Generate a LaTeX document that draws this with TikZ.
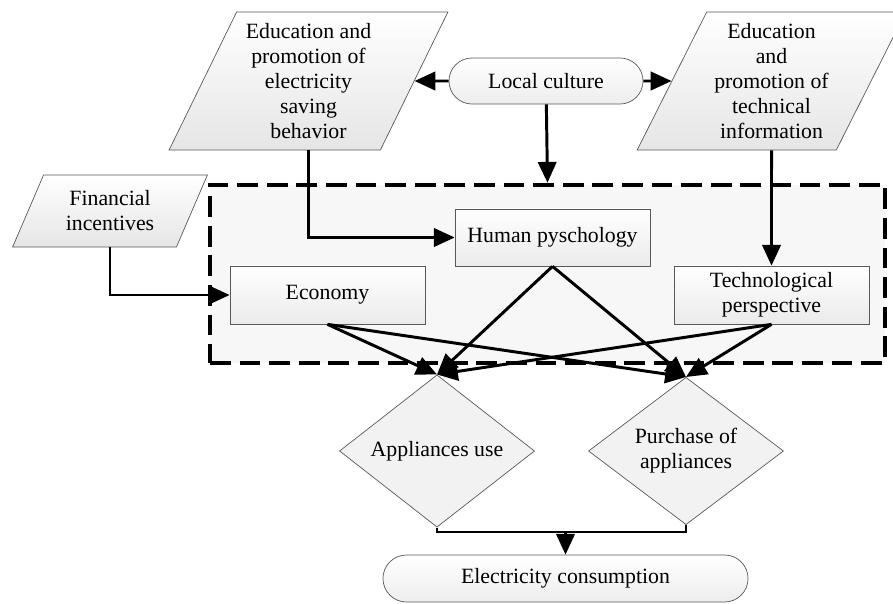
\documentclass[tikz,border=0pt]{standalone}
\usepackage{fontspec}
\setmainfont{Liberation Serif}
\usetikzlibrary{shapes.geometric,shapes.misc,arrows.meta}

\begin{document}
\begin{tikzpicture}[x=0.025cm,y=-0.025cm,
    every node/.style={font=\fontsize{15.5}{17.8}\selectfont, align=center},
    para/.style={trapezium, trapezium stretches, draw=gray!70!black, line width=0.5pt,
        top color=white, bottom color=gray!20, minimum height=3.45cm, inner sep=0pt},
    pill/.style={rounded rectangle, draw=gray!70!black, line width=0.5pt,
        top color=white, bottom color=gray!14, minimum height=1.15cm, inner sep=0pt},
    blok/.style={rectangle, draw=gray!70!black, line width=0.5pt,
        top color=white, bottom color=gray!16, minimum width=4.875cm, minimum height=1.45cm, inner sep=0pt},
    choice/.style={diamond, draw=gray!70!black, line width=0.5pt, fill=gray!10,
        minimum width=4.875cm, minimum height=3.45cm, inner sep=0pt},
    arr/.style={-{Triangle[length=0.52cm,width=0.46cm]}, line width=2.1pt}]

    \useasboundingbox (0,0) rectangle (893,604);

    %riquadro tratteggiato dei fattori
    \node[draw, dash pattern=on 0.52cm off 0.22cm, line width=3.2pt, fill=gray!6,
        minimum width=16.875cm, minimum height=4.45cm, inner sep=0pt] (group) at (547.5,274) {};

    %parallelogrammi in alto
    \node[para, minimum width=6.975cm, trapezium left angle=63, trapezium right angle=117] (edu1) at (308.5,81)
        {Education and\\promotion of\\electricity\\saving\\behavior};
    \node[para, minimum width=6.725cm, trapezium left angle=62, trapezium right angle=118] (edu2) at (771.5,81)
        {Education\\and\\promotion of\\technical\\information};
    \node[para, minimum width=4.9cm, minimum height=1.8cm, trapezium left angle=63, trapezium right angle=117] (fin) at (110,211)
        {Financial\\incentives};

    %cultura locale
    \node[pill, minimum width=4.85cm] (loc) at (546,81) {Local culture};

    %fattori
    \node[blok] (eco) at (327.5,295) {Economy};
    \node[blok, minimum height=1.425cm] (hum) at (552.5,237.5) {Human pyschology};
    \node[blok] (tech) at (771.5,295) {Technological\\perspective};

    %uso e acquisto
    \node[choice] (use) at (437,451) {Appliances use};
    \node[choice] (buy) at (686,451) {Purchase of\\appliances};

    %consumo
    \node[pill, minimum width=9.125cm, minimum height=1.175cm] (elec) at (565.5,578.5) {Electricity consumption};
    \coordinate (join) at (565.5,532);

    %archi
    \draw[arr] (loc) -- (edu1);
    \draw[arr] (loc) -- (edu2);
    \draw[arr] (loc) -- (group.north);
    \draw[arr] (edu1.south) |- (hum);
    \draw[arr] (edu2.south) -- (tech);
    \draw[arr] (fin.south) |- (eco);
    \draw[arr] (eco.south) -- (use.north);
    \draw[arr] (eco.south) -- (buy.north);
    \draw[arr] (hum.south) -- (use.north);
    \draw[arr] (hum.south) -- (buy.north);
    \draw[arr] (tech.south) -- (use.north);
    \draw[arr] (tech.south) -- (buy.north);
    \draw[line width=2.1pt] (use.south) |- (join) -| (buy.south);
    \draw[arr] (join) -- (elec);

\end{tikzpicture}
\end{document}
